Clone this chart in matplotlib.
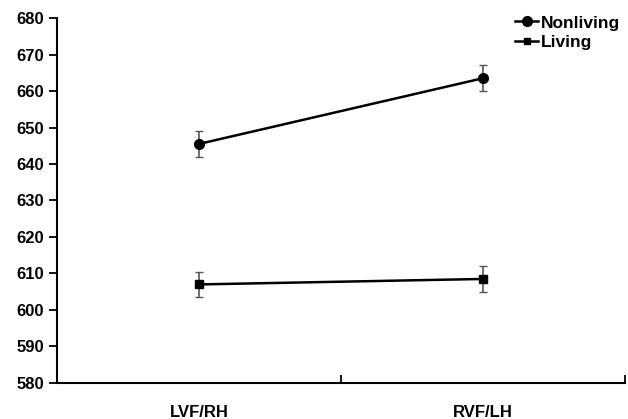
import matplotlib.pyplot as plt
from matplotlib.lines import Line2D

plt.rcParams['font.family'] = ['Liberation Sans', 'DejaVu Sans']
plt.rcParams['font.weight'] = 'bold'

categories = ['LVF/RH', 'RVF/LH']
nonliving = [645.5, 663.5]
nonliving_err = [3.5, 3.5]
living = [607.0, 608.5]
living_err = [3.5, 3.5]

fig = plt.figure(figsize=(6.28, 4.19), dpi=100)
ax = fig.add_axes([0.091, 0.086, 0.904, 0.871])

x = [0, 1]
ax.errorbar(x, nonliving, yerr=nonliving_err, color='black', marker='o', markersize=7,
            linewidth=1.8, ecolor='#555555', elinewidth=1.2, capsize=3, capthick=1)
ax.errorbar(x, living, yerr=living_err, color='black', marker='s', markersize=6,
            linewidth=1.8, ecolor='#555555', elinewidth=1.2, capsize=3, capthick=1)

ax.set_xlim(-0.5, 1.5)
ax.set_ylim(580, 680)
ax.set_yticks(range(580, 681, 10))
ax.set_xticks([-0.5, 0.5, 1.5])
ax.set_xticklabels([])
ax.set_xticks(x, minor=True)
ax.set_xticklabels(categories, minor=True)
ax.tick_params(axis='x', which='minor', length=0, pad=16, labelsize=12)
ax.tick_params(axis='x', which='major', direction='in', length=6, width=1.3)
ax.tick_params(axis='y', direction='out', length=6, width=1.3, labelsize=12)
for s in ['top', 'right']:
    ax.spines[s].set_visible(False)
for s in ['left', 'bottom']:
    ax.spines[s].set_linewidth(1.5)

handles = [Line2D([], [], color='black', marker='o', markersize=7, linewidth=1.8),
           Line2D([], [], color='black', marker='s', markersize=5, linewidth=1.8)]
ax.legend(handles, ['Nonliving', 'Living'], loc='upper right', bbox_to_anchor=(1.02, 1.05),
          frameon=False, fontsize=12.5, handlelength=1.3, handletextpad=0.2,
          labelspacing=0.25)

fig.savefig('out.png', dpi=100)
